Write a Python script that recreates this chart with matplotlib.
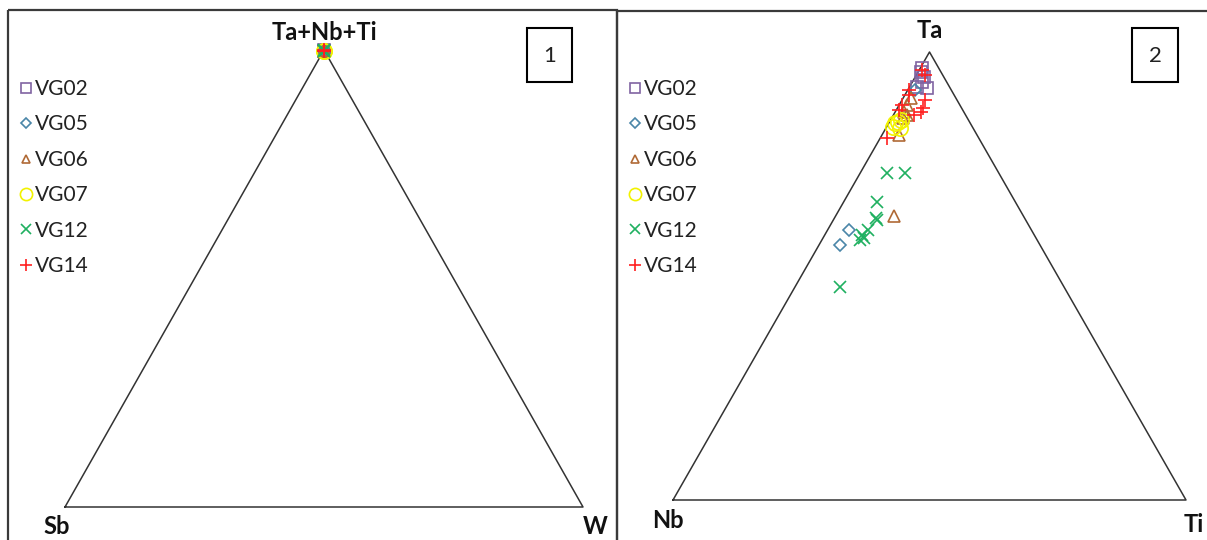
import matplotlib
matplotlib.use('Agg')
import matplotlib.pyplot as plt
import numpy as np
from matplotlib.patches import Rectangle

plt.rcParams['font.family'] = ['Lato', 'DejaVu Sans']

series = ['VG02', 'VG05', 'VG06', 'VG07', 'VG12', 'VG14']
markers = ['s', 'D', '^', 'o', 'x', '+']
msizes = [9, 6, 8, 11, 9, 10]
colors = ['#8064A2', '#4A86A8', '#B06A36', '#F2F200', '#1FB060', '#FF2020']

# diagram 1 : Sb - W - (Ta+Nb+Ti), in %
d1_tnt = {
    'VG02': [99.9, 99.8, 99.7],
    'VG05': [99.8, 99.9],
    'VG06': [99.8, 99.7, 99.9],
    'VG07': [99.7, 99.8],
    'VG12': [99.9, 99.8, 99.7],
    'VG14': [99.8, 99.9, 99.7],
}
d1_sb = {
    'VG02': [0.05, 0.1, 0.15],
    'VG05': [0.1, 0.05],
    'VG06': [0.1, 0.2, 0.05],
    'VG07': [0.15, 0.1],
    'VG12': [0.05, 0.1, 0.2],
    'VG14': [0.1, 0.05, 0.1],
}
d1_w = {
    'VG02': [0.05, 0.1, 0.15],
    'VG05': [0.1, 0.05],
    'VG06': [0.1, 0.1, 0.05],
    'VG07': [0.15, 0.1],
    'VG12': [0.05, 0.1, 0.1],
    'VG14': [0.1, 0.05, 0.2],
}

# diagram 2 : Nb - Ti - Ta, in %
d2_ta = {
    'VG02': [95.5, 94.4, 92.0, 93.3, 92.2, 96.4],
    'VG05': [60.3, 56.9, 91.5],
    'VG06': [89.7, 88.2, 86.6, 85.3, 85.9, 81.5, 63.4],
    'VG07': [84.2, 84.4, 84.8, 83.3, 83.0],
    'VG12': [73.0, 73.0, 66.5, 62.5, 63.0, 59.2, 58.0, 58.5, 60.3, 47.5],
    'VG14': [96.0, 94.9, 91.5, 90.4, 89.3, 86.6, 87.5, 88.2, 87.1, 80.8, 85.9],
}
d2_ti = {
    'VG02': [0.5, 1.8, 3.6, 1.8, 1.4, 0.4],
    'VG05': [4.1, 4.2, 1.5],
    'VG06': [1.6, 1.6, 1.8, 2.1, 2.7, 3.4, 11.3],
    'VG07': [1.1, 1.6, 2.1, 1.2, 2.7],
    'VG12': [5.3, 8.7, 6.6, 8.5, 8.1, 7.2, 7.4, 7.9, 7.8, 8.9],
    'VG14': [0.6, 1.6, 0.2, 0.9, 4.4, 5.1, 4.9, 0.5, 0.6, 1.4, 4.1],
}
d2_nb = {
    'VG02': [4.0, 3.8, 4.4, 4.9, 6.4, 3.2],
    'VG05': [35.6, 38.9, 7.0],
    'VG06': [8.7, 10.2, 11.6, 12.6, 11.4, 15.1, 25.3],
    'VG07': [14.7, 14.0, 13.1, 15.5, 14.3],
    'VG12': [21.7, 18.3, 26.9, 29.0, 28.9, 33.6, 34.6, 33.6, 31.9, 43.6],
    'VG14': [3.4, 3.5, 8.3, 8.7, 6.3, 8.3, 7.6, 11.3, 12.3, 17.8, 10.0],
}

H = np.sqrt(3) / 2


def tern(left, right, top):
    left, right, top = np.asarray(left), np.asarray(right), np.asarray(top)
    s = left + right + top
    return (right + top / 2) / s, (top / s) * H


W, Hpx = 1207, 540
fig = plt.figure(figsize=(W / 100, Hpx / 100), dpi=100)

# background axes in pixel units for frames and labels
bg = fig.add_axes([0, 0, 1, 1])
bg.set_xlim(0, W)
bg.set_ylim(Hpx, 0)
bg.axis('off')
bg.add_patch(Rectangle((8, 10), 609, 540, fill=False, ec='#3a3a3a', lw=1.6))
bg.add_patch(Rectangle((617, 11), 600, 540, fill=False, ec='#3a3a3a', lw=1.6))
bg.add_patch(Rectangle((527, 28), 45, 54, fill=False, ec='black', lw=1.5))
bg.add_patch(Rectangle((1132, 28), 46, 54, fill=False, ec='black', lw=1.5))
bg.text(549.5, 56, '1', fontsize=16, ha='center', va='center', color='#222222')
bg.text(1155, 56, '2', fontsize=16, ha='center', va='center', color='#222222')

lab = dict(fontsize=17, fontweight='bold', ha='center', va='center', color='#111111')
bg.text(324, 33, 'Ta+Nb+Ti', **lab)
bg.text(57, 527, 'Sb', **lab)
bg.text(595, 527, 'W', **lab)
bg.text(930, 30, 'Ta', **lab)
bg.text(668, 520, 'Nb', **lab)
bg.text(1194, 524, 'Ti', **lab)

ax1 = fig.add_axes([65 / W, 1 - 507 / Hpx, 518 / W, 457 / Hpx])
ax2 = fig.add_axes([673 / W, 1 - 500 / Hpx, 513 / W, 448 / Hpx])

for ax in (ax1, ax2):
    ax.set_xlim(0, 1)
    ax.set_ylim(0, H)
    ax.axis('off')
    ax.plot([0, 1, 0.5, 0], [0, 0, H, 0], color='#333333', lw=1.1, clip_on=False)

for name, m, ms, c in zip(series, markers, msizes, colors):
    x, y = tern(d1_sb[name], d1_w[name], d1_tnt[name])
    ax1.plot(x, y, ls='none', marker=m, ms=ms, mfc='none', mec=c, mew=1.2,
             clip_on=False, label=name)
    x, y = tern(d2_nb[name], d2_ti[name], d2_ta[name])
    ax2.plot(x, y, ls='none', marker=m, ms=ms, mfc='none', mec=c, mew=1.2,
             clip_on=False, label=name)

for ax, x0 in ((ax1, 19), (ax2, 628)):
    ax.legend(loc='upper left', bbox_to_anchor=(x0 / W, 1 - 79 / Hpx),
              bbox_transform=fig.transFigure, frameon=False, fontsize=15,
              handlelength=0.65, handletextpad=0.12, labelspacing=0.74,
              borderpad=0, borderaxespad=0, markerscale=0.8,
              labelcolor='#222222')

fig.savefig('out.png', dpi=100)
